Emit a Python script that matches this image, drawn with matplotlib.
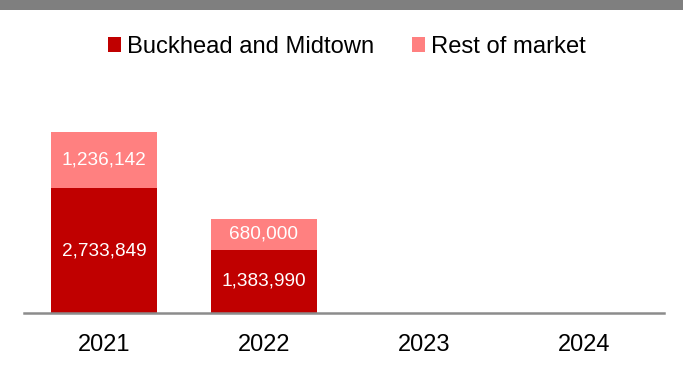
import matplotlib.pyplot as plt
from matplotlib.patches import Rectangle

years = ["2021", "2022", "2023", "2024"]
buckhead_midtown = [2733849, 1383990, 0, 0]
rest_of_market = [1236142, 680000, 0, 0]

dark_red = "#C00000"
light_red = "#FF8080"

plt.rcParams["font.family"] = ["Liberation Sans", "DejaVu Sans"]

W, H = 683, 371
fig = plt.figure(figsize=(W / 100, H / 100), dpi=100)

# grey band along the top edge
fig.patches.append(Rectangle((0, 1 - 10 / H), 1, 10 / H, transform=fig.transFigure,
                             facecolor="#7f7f7f", edgecolor="none", zorder=0))

ax = fig.add_axes([24 / W, (H - 313) / H, 640 / W, 228 / H])
x = list(range(len(years)))
width = 0.66

ax.bar(x, buckhead_midtown, width, color=dark_red, label="Buckhead and Midtown")
ax.bar(x, rest_of_market, width, bottom=buckhead_midtown, color=light_red,
       label="Rest of market")

for i in x:
    b = buckhead_midtown[i]
    r = rest_of_market[i]
    if b:
        ax.text(i, b / 2, f"{b:,}", ha="center", va="center", color="white", fontsize=13.7)
    if r:
        ax.text(i, b + r / 2, f"{r:,}", ha="center", va="center", color="white", fontsize=13.7)

ax.set_xlim(-0.5, len(years) - 0.5)
ax.set_ylim(0, 5_000_000)
ax.set_xticks(x)
ax.set_xticklabels(years, fontsize=17)
ax.tick_params(axis="x", length=0, pad=15)
ax.set_yticks([])
for s in ("top", "right", "left"):
    ax.spines[s].set_visible(False)
ax.spines["bottom"].set_color("#8c8c8c")
ax.spines["bottom"].set_linewidth(1.8)

fig.legend(loc="center", bbox_to_anchor=(0.5 + 5 / W, 1 - 47 / H), ncol=2, frameon=False,
           fontsize=17.1, handlelength=0.55, handleheight=0.55, handletextpad=0.25,
           columnspacing=1.6)

fig.savefig("out.png", dpi=100)
